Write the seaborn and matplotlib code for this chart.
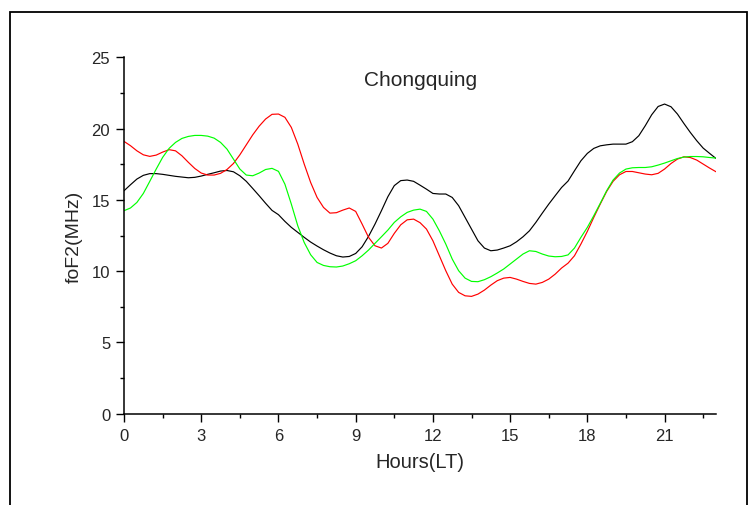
import matplotlib
matplotlib.use("Agg")
import matplotlib.pyplot as plt
from matplotlib.patches import Rectangle
import seaborn as sns
import pandas as pd

# hours (LT), values every quarter hour
hours = [i * 0.25 for i in range(93)]

black_vals = [15.64, 16.06, 16.46, 16.72, 16.84, 16.84, 16.79, 16.72, 16.65, 16.6,
              16.55, 16.58, 16.67, 16.79, 16.9, 17.02, 17.06, 16.97, 16.69, 16.3,
              15.8, 15.29, 14.76, 14.26,
              13.96, 13.49, 13.07, 12.72, 12.37, 12.04, 11.76, 11.5, 11.27, 11.08,
              10.99, 11.03, 11.24, 11.71, 12.44, 13.3, 14.24, 15.22, 16.0, 16.35,
              16.39, 16.3, 16.03,
              15.75, 15.45, 15.41, 15.41, 15.17, 14.59, 13.77, 12.95, 12.13, 11.62,
              11.43, 11.48, 11.62, 11.78, 12.06, 12.41, 12.83, 13.42, 14.07, 14.7,
              15.29, 15.87, 16.32,
              17.04, 17.74, 18.26, 18.61, 18.79, 18.86, 18.91, 18.91, 18.91, 19.08,
              19.5, 20.2, 20.97, 21.55, 21.72, 21.53, 21.02, 20.36, 19.73, 19.15,
              18.63, 18.26, 17.9]

red_vals = [19.1, 18.8, 18.44, 18.16, 18.05, 18.14, 18.35, 18.52, 18.44, 18.09,
            17.63, 17.2, 16.88, 16.74, 16.74, 16.86, 17.13, 17.55, 18.16, 18.86,
            19.56, 20.17, 20.67, 21.0,
            21.02, 20.79, 20.08, 18.91, 17.51, 16.22, 15.17, 14.47, 14.07, 14.1,
            14.28, 14.43, 14.19, 13.3, 12.37, 11.78, 11.62, 11.95, 12.65, 13.25,
            13.6, 13.65, 13.4,
            12.95, 12.13, 11.08, 10.03, 9.09, 8.51, 8.27, 8.23, 8.39, 8.67,
            9.02, 9.33, 9.51, 9.56, 9.44, 9.28, 9.14, 9.09, 9.21, 9.44,
            9.79, 10.22, 10.56,
            11.08, 11.9, 12.79, 13.77, 14.7, 15.59, 16.3, 16.76, 16.99, 16.99,
            16.9, 16.81, 16.76, 16.86, 17.16, 17.55, 17.86, 18.02, 17.97, 17.79,
            17.51, 17.23, 16.97]

green_vals = [14.24, 14.43, 14.82, 15.45, 16.3, 17.16, 17.98, 18.61, 19.03, 19.31,
              19.45, 19.52, 19.52, 19.47, 19.33, 19.03, 18.56, 17.86, 17.16, 16.74,
              16.69, 16.88, 17.13, 17.21,
              17.0, 16.1, 14.7, 13.18, 12.01, 11.15, 10.61, 10.4, 10.31, 10.29,
              10.36, 10.52, 10.73, 11.08, 11.48, 11.95, 12.41, 12.88, 13.42, 13.81,
              14.12, 14.28, 14.35,
              14.19, 13.65, 12.83, 11.9, 10.85, 10.03, 9.51, 9.28, 9.26, 9.4,
              9.61, 9.87, 10.15, 10.5, 10.85, 11.2, 11.43, 11.38, 11.2, 11.06,
              11.01, 11.03, 11.14,
              11.62, 12.37, 13.07, 13.89, 14.75, 15.64, 16.39, 16.88, 17.16, 17.25,
              17.27, 17.27, 17.32, 17.44, 17.58, 17.74, 17.9, 18.0, 18.04, 18.04,
              18.02, 17.97, 17.93]

x_ticks = [0, 3, 6, 9, 12, 15, 18, 21]
y_ticks = [0, 5, 10, 15, 20, 25]

df = pd.DataFrame({
    "hour": hours * 3,
    "foF2": black_vals + red_vals + green_vals,
    "series": ["black"] * len(hours) + ["red"] * len(hours) + ["green"] * len(hours),
})

sns.set_style("ticks")
plt.rcParams["font.family"] = ["Liberation Sans", "DejaVu Sans"]

fig = plt.figure(figsize=(7.49, 5.06), dpi=100)
ax = fig.add_axes([0.1656, 0.1804, 0.7904, 0.7044])

sns.lineplot(data=df, x="hour", y="foF2", hue="series",
             palette={"black": "#000000", "red": "#ff0000", "green": "#00ff00"},
             linewidth=0.85, legend=False, ax=ax,
             solid_joinstyle="round", solid_capstyle="round")

ax.set_xlim(0, 23)
ax.set_ylim(0, 25)
ax.set_xticks(x_ticks)
ax.set_yticks(y_ticks)
ax.set_xticks([x + 1.5 for x in x_ticks], minor=True)
ax.set_yticks([y + 2.5 for y in y_ticks[:-1]], minor=True)
ax.tick_params(which="major", direction="out", length=6, width=1.0,
               labelsize=12, pad=4, color="black")
ax.tick_params(which="minor", direction="out", length=3, width=1.0, color="black")
for side in ["top", "right"]:
    ax.spines[side].set_visible(False)
for side in ["left", "bottom"]:
    ax.spines[side].set_linewidth(1.1)
    ax.spines[side].set_color("black")

ax.set_xlabel("Hours(LT)", fontsize=14.5, labelpad=7)
ax.set_ylabel("foF2(MHz)", fontsize=14, labelpad=6)
fig.text(421 / 749, 1 - 80 / 506, "Chongquing", fontsize=15,
         ha="center", va="center")

# outer frame around the figure, bottom edge runs off the image
fig.patches.append(Rectangle((9.5 / 749, -0.1), (747 - 9.5) / 749, 1.1 - 12.5 / 506,
                             transform=fig.transFigure, fill=False,
                             edgecolor="black", linewidth=1.3))

fig.savefig("out.png", dpi=100)
